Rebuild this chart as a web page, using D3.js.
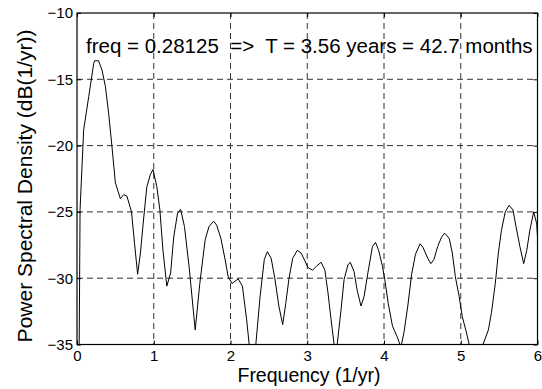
<!DOCTYPE html>
<html lang="en">
<head>
<meta charset="UTF-8">
<title>Power Spectral Density</title>
<style>
    body { margin: 0; background: #fff; font-family: "Liberation Sans", Arial, sans-serif; }
    .tick text { font-size: 15px; fill: #000; font-family: "Liberation Sans", Arial, sans-serif; }
    .grid line { stroke: #333; stroke-dasharray: 6,4; }
</style>
<script src="https://d3js.org/d3.v7.min.js"></script>
</head>
<body>
<div id="chart"></div>
<script>
// frequency (1/yr) and PSD (dB)
var freq = [0, 0.04, 0.087, 0.153, 0.218, 0.23, 0.28, 0.326, 0.37, 0.413, 0.456, 0.5, 0.565, 0.608, 0.65, 0.71, 0.75, 0.79,
    0.826, 0.87, 0.91, 0.955, 0.99, 1.04, 1.08, 1.12, 1.17, 1.22, 1.26, 1.31, 1.35, 1.40, 1.46, 1.54, 1.60, 1.67, 1.72,
    1.78, 1.82, 1.875, 1.93, 1.97, 2.02, 2.10, 2.155, 2.21, 2.245, 2.29, 2.33, 2.385, 2.44, 2.48, 2.53, 2.58, 2.63,
    2.68, 2.72, 2.76, 2.81, 2.87, 2.92, 2.97, 3.01, 3.07, 3.12, 3.18, 3.23, 3.27, 3.31, 3.35, 3.37, 3.39, 3.44, 3.48,
    3.53, 3.56, 3.61, 3.65, 3.70, 3.74, 3.79, 3.85, 3.89, 3.93, 3.98, 4.01, 4.055, 4.11, 4.17, 4.22, 4.26, 4.31, 4.36,
    4.41, 4.47, 4.51, 4.57, 4.61, 4.65, 4.70, 4.75, 4.79, 4.85, 4.89, 4.93, 4.98, 5.02, 5.07, 5.11, 5.2, 5.29, 5.36,
    5.40, 5.45, 5.49, 5.53, 5.58, 5.63, 5.68, 5.72, 5.77, 5.82, 5.86, 5.90, 5.95, 5.99, 6.0];
var psd = [-60, -24.8, -18.8, -16.3, -13.8, -13.6, -13.6, -14.3, -15.55, -17.6, -20.1, -22.8, -24.0, -23.7, -23.8, -25.0, -27.4, -29.7,
    -28.1, -25.4, -23.1, -22.2, -21.8, -23.1, -24.85, -27.9, -30.6, -29.6, -26.9, -25.1, -24.8, -26.1, -29.1, -33.9, -30.4, -27.1, -26.1,
    -25.7, -26.0, -27.0, -28.6, -29.9, -30.4, -30.05, -30.6, -33.1, -35.1, -37, -35.0, -31.4, -28.6, -28.0, -28.5, -30.1, -32.1,
    -33.5, -31.9, -30.1, -28.5, -27.9, -28.1, -28.7, -29.2, -29.4, -29.1, -28.8, -29.4, -31.1, -33.1, -35.0, -36, -35.0, -32.4, -30.1,
    -29.0, -28.8, -29.5, -30.9, -32.1, -31.4, -29.6, -27.6, -27.3, -27.9, -29.1, -30.1, -31.9, -33.6, -34.4, -35.2, -34.1, -32.1, -29.7,
    -28.2, -27.4, -27.7, -28.5, -28.9, -28.6, -27.6, -26.9, -26.6, -27.0, -28.1, -29.9, -31.4, -32.9, -34.0, -35.0, -38, -35.0, -33.9,
    -32.6, -30.4, -28.1, -26.4, -25.0, -24.5, -24.85, -26.1, -27.6, -28.9, -27.9, -26.4, -25.0, -25.9, -26.9];

var xTicks = [0, 1, 2, 3, 4, 5, 6];
var yTicks = [-35, -30, -25, -20, -15, -10];
var note = "freq = 0.28125  =>  T = 3.56 years = 42.7 months";

var width = 542, height = 389;
var margin = {left: 77, right: 4.5, top: 13, bottom: 44.5};

var svg = d3.select("#chart").append("svg")
    .attr("width", width)
    .attr("height", height);

var x = d3.scaleLinear().domain([0, 6]).range([margin.left, width - margin.right]);
var y = d3.scaleLinear().domain([-35, -10]).range([height - margin.bottom, margin.top]);

// dashed grid
svg.append("g").attr("class", "grid")
    .selectAll("line.v").data(xTicks.slice(1, -1)).enter().append("line")
    .attr("x1", function(d){ return x(d); }).attr("x2", function(d){ return x(d); })
    .attr("y1", y(-10)).attr("y2", y(-35));
svg.append("g").attr("class", "grid")
    .selectAll("line.h").data(yTicks.slice(1, -1)).enter().append("line")
    .attr("x1", x(0)).attr("x2", x(6))
    .attr("y1", function(d){ return y(d); }).attr("y2", function(d){ return y(d); });

svg.append("clipPath").attr("id", "clip").append("rect")
    .attr("x", x(0)).attr("y", y(-10))
    .attr("width", x(6) - x(0)).attr("height", y(-35) - y(-10));

var line = d3.line()
    .x(function(d, i){ return x(freq[i]); })
    .y(function(d){ return y(d); });

svg.append("path")
    .datum(psd)
    .attr("clip-path", "url(#clip)")
    .attr("fill", "none")
    .attr("stroke", "#000")
    .attr("stroke-width", 1)
    .attr("d", line);

// axes (MATLAB style: ticks inside, box round the plot)
var fmt = d3.format("d");
svg.append("g")
    .attr("transform", "translate(0," + y(-35) + ")")
    .call(d3.axisBottom(x).tickValues(xTicks).tickFormat(fmt).tickSizeInner(-4).tickSizeOuter(0).tickPadding(6))
    .call(function(g){ g.select(".domain").remove(); });
svg.append("g")
    .attr("transform", "translate(" + x(0) + ",0)")
    .call(d3.axisLeft(y).tickValues(yTicks).tickFormat(fmt).tickSizeInner(-4).tickSizeOuter(0).tickPadding(4))
    .call(function(g){ g.select(".domain").remove(); });
svg.append("g")
    .attr("transform", "translate(0," + y(-10) + ")")
    .call(d3.axisTop(x).tickValues(xTicks).tickSizeInner(-4).tickSizeOuter(0).tickFormat(""))
    .call(function(g){ g.select(".domain").remove(); });
svg.append("g")
    .attr("transform", "translate(" + x(6) + ",0)")
    .call(d3.axisRight(y).tickValues(yTicks).tickSizeInner(-4).tickSizeOuter(0).tickFormat(""))
    .call(function(g){ g.select(".domain").remove(); });

svg.append("rect")
    .attr("x", x(0)).attr("y", y(-10))
    .attr("width", x(6) - x(0)).attr("height", y(-35) - y(-10))
    .attr("fill", "none").attr("stroke", "#000").attr("stroke-width", 1.2);

svg.append("text")
    .attr("x", 309).attr("y", 382)
    .attr("text-anchor", "middle")
    .style("font-size", "19.5px")
    .text("Frequency (1/yr)");

svg.append("text")
    .attr("transform", "translate(32,186) rotate(-90)")
    .attr("text-anchor", "middle")
    .style("font-size", "21px")
    .text("Power Spectral Density (dB(1/yr))");

svg.append("text")
    .attr("x", 86).attr("y", 53)
    .style("font-size", "20.5px")
    .style("white-space", "pre")
    .attr("xml:space", "preserve")
    .text(note);
</script>
</body>
</html>
